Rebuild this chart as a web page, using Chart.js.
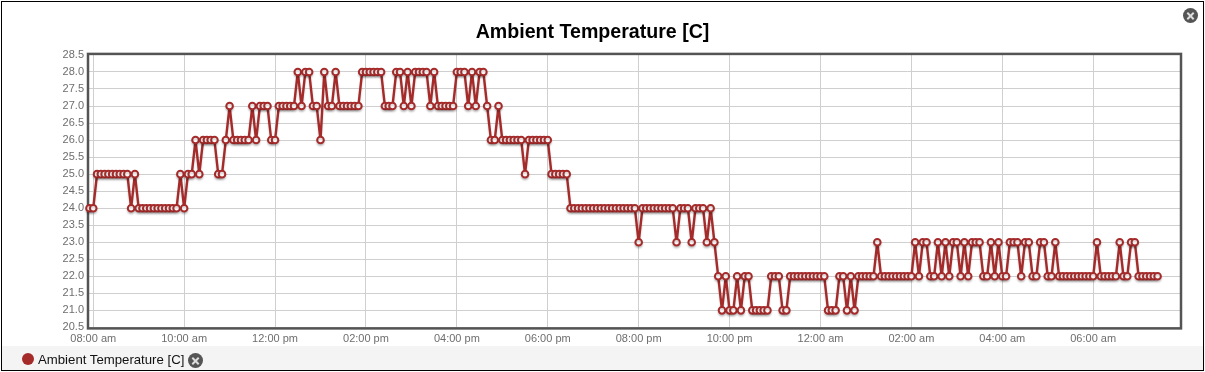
<!DOCTYPE html>
<html>
<head>
<meta charset="utf-8">
<title>Ambient Temperature</title>
<script src="https://cdn.jsdelivr.net/npm/chart.js@4"></script>
<style>
    html, body { margin: 0; padding: 0; background: #fff; }
    #wrap { position: relative; width: 1205px; height: 372px; overflow: hidden; font-family: "Liberation Sans", Arial, sans-serif; }
    #frame { position: absolute; left: 1px; top: 1px; width: 1201px; height: 368px; border: 1px solid #000; }
    #legendBar { position: absolute; left: 2px; top: 346px; width: 1201px; height: 24px; background: #f4f4f4; }
    #chartCanvas { position: absolute; left: 0; top: 0; }
    #legendDot { position: absolute; left: 22px; top: 353px; width: 12px; height: 12px; border-radius: 50%; background: #a52a2a; }
    #legendText { position: absolute; left: 38px; top: 353px; font-size: 13.2px; line-height: 14px; color: #111; }
    .close { position: absolute; width: 15px; height: 15px; border-radius: 50%; background: #555; }
    .close::before, .close::after { content: ""; position: absolute; left: 3px; top: 6.5px; width: 9px; height: 2px; background: #ddd; }
    .close::before { transform: rotate(45deg); }
    .close::after { transform: rotate(-45deg); }
</style>
</head>
<body>
<div id="wrap">
    <div id="legendBar"></div>
    <div id="frame"></div>
    <canvas id="chartCanvas" width="1205" height="372"></canvas>
    <div class="close" style="left:1183px;top:8px"></div>
    <div id="legendDot"></div>
    <div id="legendText">Ambient Temperature [C]</div>
    <div class="close" style="left:188px;top:353px"></div>
</div>
<script>
// minutes after 08:00 am, one reading every 5 minutes
const sampleMinutes = [
    -5, 0, 5, 10, 15, 20, 25, 30, 35, 40, 45, 50, 55, 60, 65, 70, 75, 80, 85, 90,
    95, 100, 105, 110, 115, 120, 125, 130, 135, 140, 145, 150, 155, 160, 165, 170, 175, 180, 185, 190,
    195, 200, 205, 210, 215, 220, 225, 230, 235, 240, 245, 250, 255, 260, 265, 270, 275, 280, 285, 290,
    295, 300, 305, 310, 315, 320, 325, 330, 335, 340, 345, 350, 355, 360, 365, 370, 375, 380, 385, 390,
    395, 400, 405, 410, 415, 420, 425, 430, 435, 440, 445, 450, 455, 460, 465, 470, 475, 480, 485, 490,
    495, 500, 505, 510, 515, 520, 525, 530, 535, 540, 545, 550, 555, 560, 565, 570, 575, 580, 585, 590,
    595, 600, 605, 610, 615, 620, 625, 630, 635, 640, 645, 650, 655, 660, 665, 670, 675, 680, 685, 690,
    695, 700, 705, 710, 715, 720, 725, 730, 735, 740, 745, 750, 755, 760, 765, 770, 775, 780, 785, 790,
    795, 800, 805, 810, 815, 820, 825, 830, 835, 840, 845, 850, 855, 860, 865, 870, 875, 880, 885, 890,
    895, 900, 905, 910, 915, 920, 925, 930, 935, 940, 945, 950, 955, 960, 965, 970, 975, 980, 985, 990,
    995, 1000, 1005, 1010, 1015, 1020, 1025, 1030, 1035, 1040, 1045, 1050, 1055, 1060, 1065, 1070, 1075, 1080, 1085, 1090,
    1095, 1100, 1105, 1110, 1115, 1120, 1125, 1130, 1135, 1140, 1145, 1150, 1155, 1160, 1165, 1170, 1175, 1180, 1185, 1190,
    1195, 1200, 1205, 1210, 1215, 1220, 1225, 1230, 1235, 1240, 1245, 1250, 1255, 1260, 1265, 1270, 1275, 1280, 1285, 1290,
    1295, 1300, 1305, 1310, 1315, 1320, 1325, 1330, 1335, 1340, 1345, 1350, 1355, 1360, 1365, 1370, 1375, 1380, 1385, 1390,
    1395, 1400, 1405
];

const temperature = [
    24, 24, 25, 25, 25, 25, 25, 25, 25, 25,
    25, 24, 25, 24, 24, 24, 24, 24, 24, 24,
    24, 24, 24, 24, 25, 24, 25, 25, 26, 25,
    26, 26, 26, 26, 25, 25, 26, 27, 26, 26,
    26, 26, 26, 27, 26, 27, 27, 27, 26, 26,
    27, 27, 27, 27, 27, 28, 27, 28, 28, 27,
    27, 26, 28, 27, 27, 28, 27, 27, 27, 27,
    27, 27, 28, 28, 28, 28, 28, 28, 27, 27,
    27, 28, 28, 27, 28, 27, 28, 28, 28, 28,
    27, 28, 27, 27, 27, 27, 27, 28, 28, 28,
    27, 28, 27, 28, 28, 27, 26, 26, 27, 26,
    26, 26, 26, 26, 26, 25, 26, 26, 26, 26,
    26, 26, 25, 25, 25, 25, 25, 24, 24, 24,
    24, 24, 24, 24, 24, 24, 24, 24, 24, 24,
    24, 24, 24, 24, 24, 23, 24, 24, 24, 24,
    24, 24, 24, 24, 24, 23, 24, 24, 24, 23,
    24, 24, 24, 23, 24, 23, 22, 21, 22, 21,
    21, 22, 21, 22, 22, 21, 21, 21, 21, 21,
    22, 22, 22, 21, 21, 22, 22, 22, 22, 22,
    22, 22, 22, 22, 22, 21, 21, 21, 22, 22,
    21, 22, 21, 22, 22, 22, 22, 22, 23, 22,
    22, 22, 22, 22, 22, 22, 22, 22, 23, 22,
    23, 23, 22, 22, 23, 22, 23, 22, 23, 23,
    22, 23, 22, 23, 23, 23, 22, 22, 23, 22,
    23, 22, 22, 23, 23, 23, 22, 23, 23, 22,
    22, 23, 23, 22, 22, 23, 22, 22, 22, 22,
    22, 22, 22, 22, 22, 22, 23, 22, 22, 22,
    22, 22, 23, 22, 22, 23, 23, 22, 22, 22,
    22, 22, 22
];

const xTickMinutes = [0, 120, 240, 360, 480, 600, 720, 840, 960, 1080, 1200, 1320];
const xTickLabels = ['08:00 am', '10:00 am', '12:00 pm', '02:00 pm', '04:00 pm', '06:00 pm',
    '08:00 pm', '10:00 pm', '12:00 am', '02:00 am', '04:00 am', '06:00 am'];

const lineColor = '#a52a2a';
const tickFont = { family: '"Liberation Sans", Arial, sans-serif', size: 11 };

// the heavy box round the plot, under the line like flot does it
const plotBorder = {
    id: 'plotBorder',
    beforeDatasetsDraw(chart) {
        const { ctx, chartArea: a } = chart;
        ctx.save();
        ctx.strokeStyle = '#545454';
        ctx.lineWidth = 2.5;
        ctx.strokeRect(a.left - 1, a.top - 1, a.right - a.left + 2, a.bottom - a.top + 2);
        ctx.restore();
    }
};

// soft shadow below the line
const lineShadow = {
    id: 'lineShadow',
    beforeDatasetDraw(chart) {
        const ctx = chart.ctx;
        ctx.save();
        ctx.shadowColor = 'rgba(0,0,0,0.18)';
        ctx.shadowBlur = 2;
        ctx.shadowOffsetY = 2;
    },
    afterDatasetDraw(chart) {
        chart.ctx.restore();
    }
};

new Chart(document.getElementById('chartCanvas').getContext('2d'), {
    type: 'line',
    data: {
        datasets: [{
            label: 'Ambient Temperature [C]',
            data: sampleMinutes.map((m, i) => ({ x: m, y: temperature[i] })),
            borderColor: lineColor,
            borderWidth: 2.4,
            borderJoinStyle: 'round',
            backgroundColor: '#fff',
            pointBackgroundColor: '#fff',
            pointBorderColor: lineColor,
            pointBorderWidth: 2,
            pointRadius: 3.3,
            tension: 0,
            clip: false
        }]
    },
    options: {
        responsive: false,
        animation: false,
        layout: { padding: { left: 5, right: 25, top: 0, bottom: 25.6 } },
        plugins: {
            legend: { display: false },
            tooltip: { enabled: false },
            title: {
                display: true,
                text: 'Ambient Temperature [C]',
                color: '#000',
                font: { family: '"Liberation Sans", Arial, sans-serif', size: 19.6, weight: 'bold', lineHeight: 1.2 },
                padding: { top: 20.5, bottom: 10.9 }
            }
        },
        scales: {
            x: {
                type: 'linear',
                min: -5.6,
                max: 1434.6,
                afterBuildTicks(axis) {
                    axis.ticks = xTickMinutes.map(v => ({ value: v }));
                },
                afterFit(axis) { axis.height = 19; },
                grid: { color: '#cfcfcf', drawTicks: false },
                border: { display: false },
                ticks: {
                    color: '#6e6e6e',
                    font: tickFont,
                    padding: 5,
                    maxRotation: 0,
                    autoSkip: false,
                    callback: value => xTickLabels[xTickMinutes.indexOf(value)]
                }
            },
            y: {
                min: 20.5,
                max: 28.5,
                afterFit(axis) { axis.width = 84; },
                grid: { color: '#cfcfcf', drawTicks: false },
                border: { display: false },
                ticks: {
                    color: '#6e6e6e',
                    font: tickFont,
                    padding: 5,
                    stepSize: 0.5,
                    autoSkip: false,
                    callback: value => value.toFixed(1)
                }
            }
        }
    },
    plugins: [plotBorder, lineShadow]
});
</script>
</body>
</html>
